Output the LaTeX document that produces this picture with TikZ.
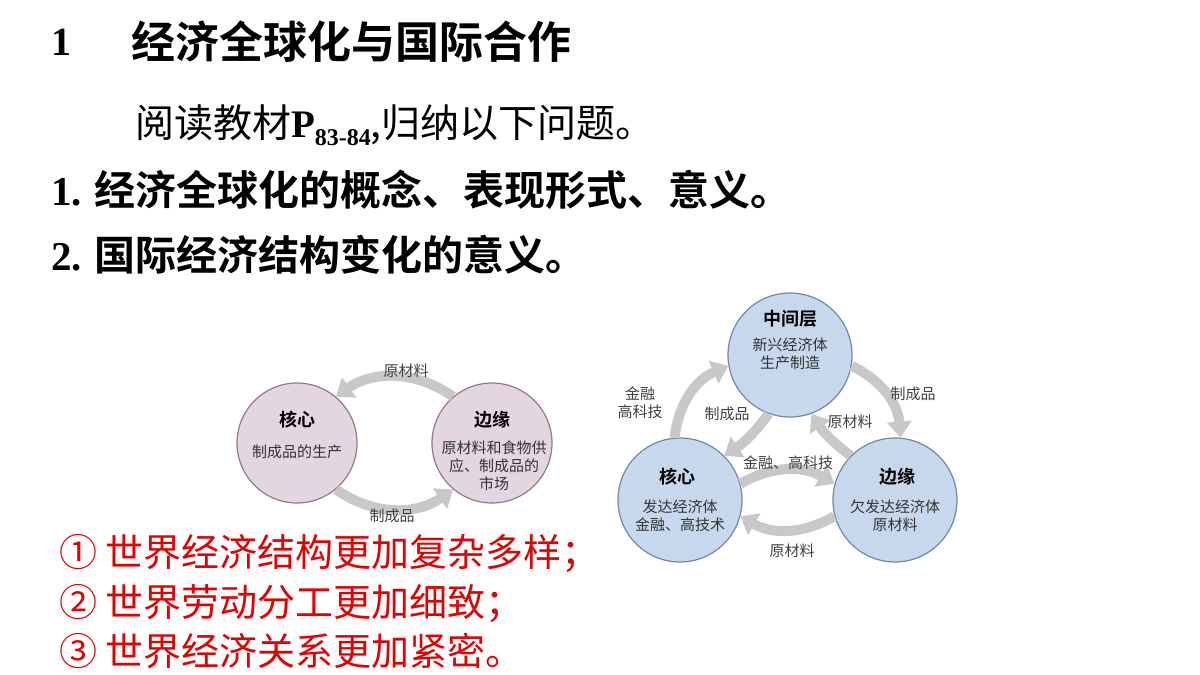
\documentclass[tikz,border=0pt]{standalone}
\usepackage{fontspec}
\setmainfont{Liberation Serif}
\newfontfamily\cjk{Noto Sans CJK SC}
\newfontfamily\cjkb{Noto Sans CJK SC Bold}
\usetikzlibrary{arrows.meta,positioning}
\definecolor{pinkfill}{RGB}{228,214,224}
\definecolor{pinkline}{RGB}{150,120,140}
\definecolor{bluefill}{RGB}{200,216,236}
\definecolor{blueline}{RGB}{110,135,175}
\definecolor{flow}{RGB}{200,200,200}
\tikzset{
  pinkball/.style={circle, minimum size=60pt, fill=pinkfill, draw=pinkline, line width=0.6pt},
  blueball/.style={circle, minimum size=62pt, fill=bluefill, draw=blueline, line width=0.6pt},
  flowarrow/.style={draw=flow, line width=5pt, -{Triangle[length=8pt,width=12pt]}},
  tag/.style={font=\cjk\fontsize{7.5}{9}\selectfont, text=black!75},
  head/.style={font=\cjkb\fontsize{9}{11}\selectfont},
  sub/.style={font=\cjk\fontsize{7.5}{9}\selectfont, align=center, text=black!80},
  redline/.style={anchor=west, text=red!90!black, font=\cjk\fontsize{19}{21}\selectfont}
}
\begin{document}
\begin{tikzpicture}[x=0.5pt, y=-0.5pt]
        \useasboundingbox (0,0) rectangle (1200,675);
        % heading lines
        \node[anchor=west, font=\bfseries\fontsize{20}{22}\selectfont] (num) at (44,42) {1};
        \node[anchor=west, font=\cjkb\fontsize{22}{24}\selectfont] (title) at (124,42) {经济全球化与国际合作};
        \node[anchor=west, font=\cjk\fontsize{19.5}{22}\selectfont] (read) at (128,125) {阅读教材{\rmfamily\bfseries P\raisebox{-4pt}{\fontsize{12}{13}\selectfont 83-84}},归纳以下问题。};
        \node[anchor=west, font=\cjkb\fontsize{20.5}{23}\selectfont] (q1) at (44,190) {{\rmfamily\bfseries 1.} 经济全球化的概念、表现形式、意义。};
        \node[anchor=west, font=\cjkb\fontsize{20.5}{23}\selectfont] (q2) at (44,255) {{\rmfamily\bfseries 2.} 国际经济结构变化的意义。};
        % left diagram
        \node[pinkball] (kxL) at (297,443) {};
        \node[pinkball] (byL) at (492,443) {};
        \node[head] at (297,420) {核心};
        \node[sub] at (297,452) {制成品的生产};
        \node[head] at (492,420) {边缘};
        \node[sub] at (494,466) {原材料和食物供\\应、制成品的\\市场};
        \draw[flowarrow] (byL.130) to[bend right=35] (kxL.50);
        \draw[flowarrow] (kxL.-50) to[bend right=35] (byL.-130);
        \node[tag] at (406,371) {原材料};
        \node[tag] at (392,516) {制成品};
        % right diagram
        \node[blueball] (zjR) at (790,355) {};
        \node[blueball] (kxR) at (680,500) {};
        \node[blueball] (byR) at (895,500) {};
        \node[head] at (790,319) {中间层};
        \node[sub] at (790,354) {新兴经济体\\生产制造};
        \node[head] at (677,477) {核心};
        \node[sub] at (680,516) {发达经济体\\金融、高技术};
        \node[head] at (897,477) {边缘};
        \node[sub] at (895,516) {欠发达经济体\\原材料};
        \draw[flowarrow] (kxR.95) to[bend left=30] (zjR.190);
        \draw[flowarrow] (zjR.250) to[bend left=10] (kxR.45);
        \draw[flowarrow] (zjR.-10) to[bend left=30] (byR.85);
        \draw[flowarrow] (byR.135) to[bend left=10] (zjR.290);
        \draw[flowarrow] (kxR.15) to[bend left=30] (byR.165);
        \draw[flowarrow] (byR.195) to[bend left=30] (kxR.-15);
        \node[tag, align=center] at (640,403) {金融\\高科技};
        \node[tag] at (727,414) {制成品};
        \node[tag] at (913,394) {制成品};
        \node[tag] at (850,422) {原材料};
        \node[tag] at (788,463) {金融、高科技};
        \node[tag] at (792,551) {原材料};
        % red conclusions
        \node[redline] (r1) at (52,553) {① 世界经济结构更加复杂多样；};
        \node[redline] (r2) at (52,603) {② 世界劳动分工更加细致；};
        \node[redline] (r3) at (52,651) {③ 世界经济关系更加紧密。};
\end{tikzpicture}
\end{document}
